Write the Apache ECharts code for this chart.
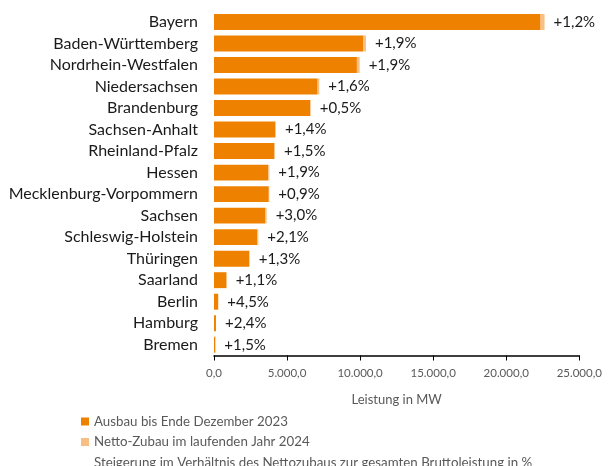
<!DOCTYPE html>
<html><head><meta charset="utf-8">
<script src="https://cdn.jsdelivr.net/npm/echarts@6/dist/echarts.min.js"></script>
<style>html,body{margin:0;padding:0;background:#fff}#c{width:609px;height:466px}</style>
</head><body><div id="c"></div>
<script>
const categories = ['Bayern','Baden-Württemberg','Nordrhein-Westfalen','Niedersachsen','Brandenburg','Sachsen-Anhalt','Rheinland-Pfalz','Hessen','Mecklenburg-Vorpommern','Sachsen','Schleswig-Holstein','Thüringen','Saarland','Berlin','Hamburg','Bremen'];
const ausbau2023 = [22350, 10200, 9780, 7090, 6590, 4180, 4110, 3715, 3750, 3495, 2970, 2410, 855, 285, 135, 90];
const zubau2024 = [274, 198, 189, 115, 33, 59, 62, 72, 34, 108, 64, 32, 10, 13, 3, 1.5];
const steigerung = ['+1,2%','+1,9%','+1,9%','+1,6%','+0,5%','+1,4%','+1,5%','+1,9%','+0,9%','+3,0%','+2,1%','+1,3%','+1,1%','+4,5%','+2,4%','+1,5%'];
const xTicks = {min: 0, max: 25000, interval: 5000};
const seriesNames = ['Ausbau bis Ende Dezember 2023','Netto-Zubau im laufenden Jahr 2024','Steigerung im Verhältnis des Nettozubaus zur gesamten Bruttoleistung in %'];

const FONT = 'Lato';
const chart = echarts.init(document.getElementById('c'), null, {renderer:'canvas'});
const fmt = v => v.toLocaleString('de-DE', {minimumFractionDigits:1, maximumFractionDigits:1});
chart.setOption({
  animation: false,
  textStyle: {fontFamily: FONT},
  grid: {left: 214, right: 29.7, top: 11.2, bottom: 110.5, containLabel: false},
  legend: {
    orient: 'vertical', left: 81, top: 415, height: 120, itemWidth: 8, itemHeight: 8, itemGap: 7.5,
    padding: 0,
    textStyle: {fontFamily: FONT, fontSize: 13.3, color: '#595959'},
    selectedMode: false,
    data: [
      {name: seriesNames[0], icon: 'rect'},
      {name: seriesNames[1], icon: 'rect'},
      {name: seriesNames[2], icon: 'none'}
    ]
  },
  xAxis: {
    type: 'value', min: xTicks.min, max: xTicks.max, interval: xTicks.interval,
    name: 'Leistung in MW', nameLocation: 'middle', nameGap: 38,
    nameTextStyle: {fontFamily: FONT, fontSize: 13, color: '#595959'},
    axisLine: {show: true, lineStyle: {color: '#000', width: 1.5}},
    axisTick: {show: true, length: 5, lineStyle: {color: '#000'}},
    splitLine: {show: false},
    axisLabel: {fontFamily: FONT, fontSize: 11.5, color: '#595959', margin: 12, formatter: fmt}
  },
  yAxis: {
    type: 'category', data: categories, inverse: true,
    axisLine: {show: false}, axisTick: {show: false},
    axisLabel: {fontFamily: FONT, fontSize: 16, color: '#1a1a1a', margin: 16}
  },
  series: [
    {name: seriesNames[0], type: 'bar', stack: 'a', data: ausbau2023, barCategoryGap: '26%',
     itemStyle: {color: '#EF8100'}},
    {name: seriesNames[1], type: 'bar', stack: 'a', data: zubau2024,
     itemStyle: {color: '#F7BF84'},
     label: {show: true, position: 'right', distance: 9, fontFamily: FONT, fontSize: 15, color: '#1a1a1a',
       formatter: p => steigerung[p.dataIndex]}},
    {name: seriesNames[2], type: 'bar', stack: 'a', data: [], itemStyle: {color: '#ffffff'}}
  ]
});
</script></body></html>
